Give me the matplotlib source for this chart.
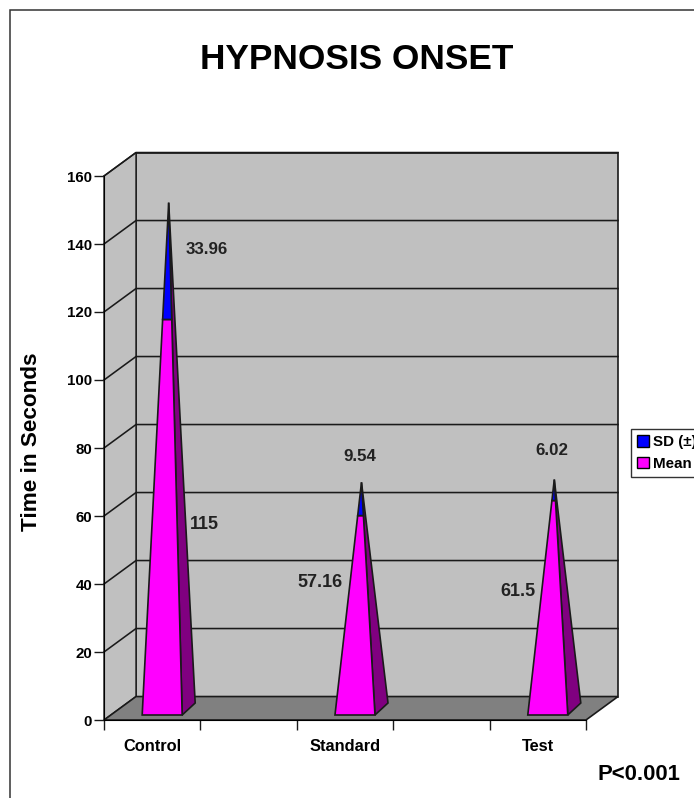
import matplotlib
matplotlib.use('Agg')
import matplotlib.pyplot as plt
from matplotlib.patches import Polygon, Rectangle

plt.rcParams['font.family'] = ['Liberation Sans', 'DejaVu Sans']
plt.rcParams['font.weight'] = 'bold'

# values
categories = ['Control', 'Standard', 'Test']
means = [115, 57.16, 61.5]
sds = [33.96, 9.54, 6.02]
mean_labels = ['115', '57.16', '61.5']
sd_labels = ['33.96', '9.54', '6.02']
y_ticks = [0, 20, 40, 60, 80, 100, 120, 140, 160]
cat_pos = [0.5, 2.5, 4.5]

# where the value labels sit (x units, y units)
mean_label_pos = [(1.04, 57.6), (2.24, 40.3), (4.295, 37.9)]
sd_label_pos = [(1.07, 138.5), (2.655, 77.4), (4.647, 79.4)]

# depth of the fake 3d box
DX = 0.332
DY = 6.9
LINE = '#1a1a1a'

fig = plt.figure(figsize=(6.94, 7.98), dpi=100)
ax = fig.add_axes([104/694, 78/798, 482/694, 544/798])
ax.set_xlim(0, 5)
ax.set_ylim(0, 160)
ax.patch.set_visible(False)

# page frame
fig.add_artist(Rectangle((10/694, -0.1), 1.1, 0.1 + 788/798, transform=fig.transFigure,
                         fill=False, ec='#333333', lw=1.1))


def poly(pts, fc, z=1, lw=1.0, ec=LINE):
    ax.add_patch(Polygon(pts, closed=True, fc=fc, ec=ec, lw=lw, zorder=z, clip_on=False))


# walls and floor
poly([(DX, DY), (5 + DX, DY), (5 + DX, 160 + DY), (DX, 160 + DY)], '#C0C0C0', lw=1.2)
poly([(0, 0), (DX, DY), (DX, 160 + DY), (0, 160)], '#C0C0C0', lw=1.0)
poly([(0, 0), (5, 0), (5 + DX, DY), (DX, DY)], '#808080', lw=1.2)

for t in y_ticks[1:]:
    ax.plot([0, DX, 5 + DX], [t, t + DY, t + DY], color=LINE, lw=1.15, zorder=2,
            clip_on=False, solid_joinstyle='miter')


def along(p, apex, f):
    return (p[0] + (apex[0] - p[0]) * f, p[1] + (apex[1] - p[1]) * f)


# pyramids, the mean and the sd stacked to one tip
for c, m, s in zip(cat_pos, means, sds):
    fl = (c - 0.104, 1.47)
    fr = (c + 0.311, 1.47)
    br = (c + 0.446, 5.0)
    total = m + s
    apex = (c + 0.171, 3.2 + total)
    f = m / total
    fl2, fr2 = along(fl, apex, f), along(fr, apex, f)
    poly([fr, br, apex], '#800080', z=3, lw=1.2)
    poly([fl, fr, fr2, fl2], '#FF00FF', z=4, lw=1.2)
    poly([fl2, fr2, apex], '#0000FF', z=4, lw=1.2)

for txt, (x, y) in zip(mean_labels, mean_label_pos):
    ax.text(x, y, txt, ha='center', va='center', fontsize=13, color='#222222', zorder=6)
for txt, (x, y) in zip(sd_labels, sd_label_pos):
    ax.text(x, y, txt, ha='center', va='center', fontsize=12.2, color='#222222', zorder=6)

# axes
ax.spines['top'].set_visible(False)
ax.spines['right'].set_visible(False)
ax.spines['left'].set_zorder(5)
ax.spines['bottom'].set_zorder(5)
ax.set_yticks(y_ticks)
ax.tick_params(axis='y', length=7.5, width=1.0, labelsize=10.8, pad=1, color=LINE)
ax.set_xticks(range(6))
ax.set_xticklabels([])
ax.tick_params(axis='x', length=7.5, width=1.0, color=LINE)
ax.set_xticks(cat_pos, minor=True)
ax.set_xticklabels(categories, minor=True)
ax.tick_params(axis='x', which='minor', length=0, pad=13.5, labelsize=11.8)

ax.set_ylabel('Time in Seconds', fontsize=16.2, fontweight='bold')
ax.yaxis.set_label_coords(-0.129, 0.511)

fig.text(357/694, 1 - 59.5/798, 'HYPNOSIS ONSET', ha='center', va='center', fontsize=25.4)
fig.text(639/694, 1 - 774/798, 'P<0.001', ha='center', va='center', fontsize=15.9)

# legend runs off the right edge like in the source
handles = [Rectangle((0, 0), 1, 1, fc='#0000FF', ec='black', lw=1.0),
           Rectangle((0, 0), 1, 1, fc='#FF00FF', ec='black', lw=1.0)]
fig.legend(handles, ['SD (±)', 'Mean'], loc='upper left',
           bbox_to_anchor=(631/694, 1 - 429/798), bbox_transform=fig.transFigure,
           fontsize=10.9, fancybox=False, framealpha=1, edgecolor='#333333',
           handlelength=0.8, handleheight=0.8, handletextpad=0.25,
           borderpad=0.4, labelspacing=0.5, borderaxespad=0)

fig.savefig('out.png', dpi=100)
